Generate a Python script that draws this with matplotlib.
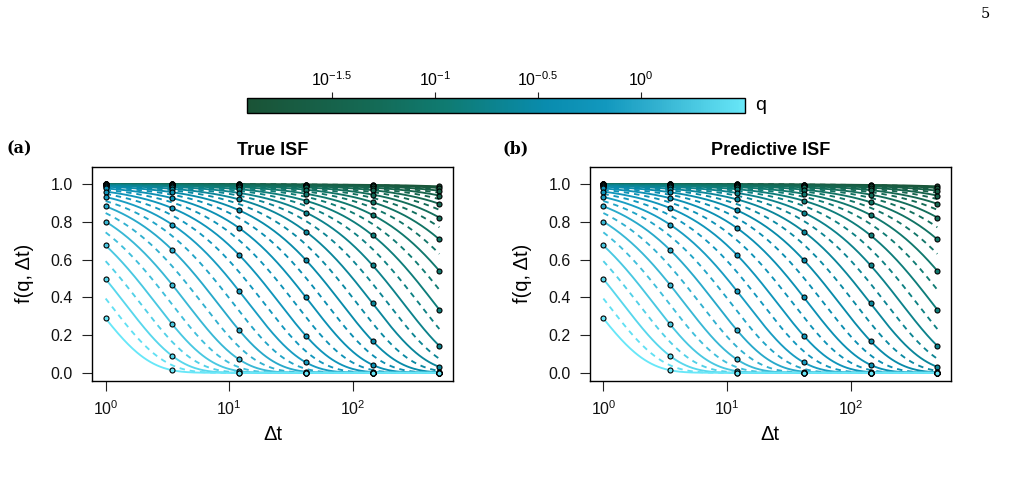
import numpy as np
import matplotlib
matplotlib.use("Agg")
import matplotlib.pyplot as plt
from matplotlib.colors import LinearSegmentedColormap, LogNorm
from matplotlib.cm import ScalarMappable

plt.rcParams['font.family'] = ['Liberation Sans', 'DejaVu Sans']
plt.rcParams['mathtext.fontset'] = 'custom'
plt.rcParams['mathtext.rm'] = 'Liberation Sans'
plt.rcParams['mathtext.it'] = 'Liberation Sans:italic'
plt.rcParams['mathtext.bf'] = 'Liberation Sans:bold'

# ---- data ----
# log10 of wave numbers q (lightest -> darkest); even index = solid curve with points
log10_q = [0.504, 0.4414, 0.3788, 0.3162, 0.2536, 0.1910, 0.1284, 0.0658, 0.0032,
           -0.0594, -0.1220, -0.1846, -0.2472, -0.3098, -0.3724, -0.4350, -0.4976,
           -0.5602, -0.6228, -0.6854, -0.7480, -0.8106, -0.8732, -0.9358, -0.9984,
           -1.0610, -1.1236, -1.1862, -1.2488, -1.3114, -1.3740, -1.4366, -1.4992,
           -1.5618, -1.6244, -1.6870, -1.7496, -1.8122, -1.8748]
D_true = 0.122        # diffusion coefficient, f = exp(-D q^2 dt)
D_pred = 0.122
dt_obs = [1.0, 3.47, 12.0, 41.6, 144.3, 500.0]
q_range_log10 = (-1.909, 0.504)
cbar_ticks_log10 = [-1.5, -1.0, -0.5, 0.0]
cbar_tick_labels = [r'$10^{-1.5}$', r'$10^{-1}$', r'$10^{-0.5}$', r'$10^{0}$']
titles = ['True ISF', 'Predictive ISF']
panel_tags = ['(a)', '(b)']

cmap = LinearSegmentedColormap.from_list(
    'isf', [(0.0, '#1a5336'), (0.25, '#146a55'), (0.40, '#0f7b72'),
            (0.60, '#098cae'), (0.72, '#1298be'), (0.82, '#31b0cf'),
            (1.0, '#68e7f8')])
norm = LogNorm(10 ** q_range_log10[0], 10 ** q_range_log10[1])

W, H = 1010, 501
fig = plt.figure(figsize=(W / 100, H / 100), dpi=100)

axes_px = [(92.3, 452.7), (590.0, 950.7)]
top_px, bot_px = 167.0, 380.7
tag_x = [6, 503]

dt_line = np.logspace(0, np.log10(500), 300)
q_vals = 10 ** np.array(log10_q)
order = np.argsort(q_vals)  # dark first, light on top

for p, (x0, x1) in enumerate(axes_px):
    ax = fig.add_axes([x0 / W, 1 - bot_px / H, (x1 - x0) / W, (bot_px - top_px) / H])
    D = D_true if p == 0 else D_pred
    for k in order:
        q = q_vals[k]
        col = cmap(norm(q))
        f = np.exp(-D * q ** 2 * dt_line)
        if k % 2 == 0:
            ax.plot(dt_line, f, color=col, lw=1.35, solid_capstyle='butt', zorder=2)
        else:
            ax.plot(dt_line, f, color=col, lw=1.35, dashes=(2.9, 2.6), zorder=2)
    for k in order:
        if k % 2 == 0:
            q = q_vals[k]
            col = cmap(norm(q))
            fo = np.exp(-D * q ** 2 * np.array(dt_obs))
            ax.plot(dt_obs, fo, ls='none', marker='o', ms=3.6, mfc=col,
                    mec='black', mew=0.8, zorder=3)
    ax.set_xscale('log')
    ax.set_xlim(10 ** -0.108, 10 ** 2.807)
    ax.set_ylim(-0.042, 1.092)
    ax.set_xticks([1, 10, 100])
    ax.set_xticklabels([r'$10^{0}$', r'$10^{1}$', r'$10^{2}$'])
    ax.xaxis.set_minor_locator(matplotlib.ticker.NullLocator())
    ax.set_yticks([0, 0.2, 0.4, 0.6, 0.8, 1.0])
    ax.set_yticklabels(['0.0', '0.2', '0.4', '0.6', '0.8', '1.0'])
    ax.tick_params(axis='both', direction='out', length=7.2, width=0.8,
                   labelsize=11.5, color='#222222', labelcolor='#111111')
    ax.tick_params(axis='x', pad=6.5)
    ax.tick_params(axis='y', pad=6.8)
    for s in ax.spines.values():
        s.set_linewidth(1.0)
        s.set_color('black')
    ax.set_xlabel('Δt', fontsize=14.5, labelpad=5)
    ax.set_ylabel('f(q, Δt)', fontsize=14.5, labelpad=12)
    ax.set_title(titles[p], fontsize=13, fontweight='bold', pad=8.5)
    fig.text(tag_x[p] / W, 1 - 149 / H, panel_tags[p], fontsize=11.5,
             fontweight='bold', family='DejaVu Serif', va='center', ha='left')

# colorbar
cx0, cx1, cy0, cy1 = 247.3, 745.3, 98.3, 112.7
cax = fig.add_axes([cx0 / W, 1 - cy1 / H, (cx1 - cx0) / W, (cy1 - cy0) / H])
sm = ScalarMappable(norm=norm, cmap=cmap)
cb = fig.colorbar(sm, cax=cax, orientation='horizontal')
cb.outline.set_linewidth(1.0)
cb.outline.set_edgecolor('black')
cax.xaxis.set_ticks_position('top')
cax.xaxis.set_label_position('top')
cb.set_ticks([10 ** v for v in cbar_ticks_log10])
cb.set_ticklabels(cbar_tick_labels)
cax.xaxis.set_minor_locator(matplotlib.ticker.NullLocator())
cax.tick_params(axis='x', direction='out', length=4, width=0.8, pad=2.5,
                labelsize=11.5, color='#222222')
fig.text(755 / W, 1 - 105 / H, 'q', fontsize=14, va='center', ha='left')

# page number
fig.text(985 / W, 1 - 14 / H, '5', fontsize=10.5, family='DejaVu Serif',
         va='center', ha='center')

fig.savefig('out.png', dpi=100)
